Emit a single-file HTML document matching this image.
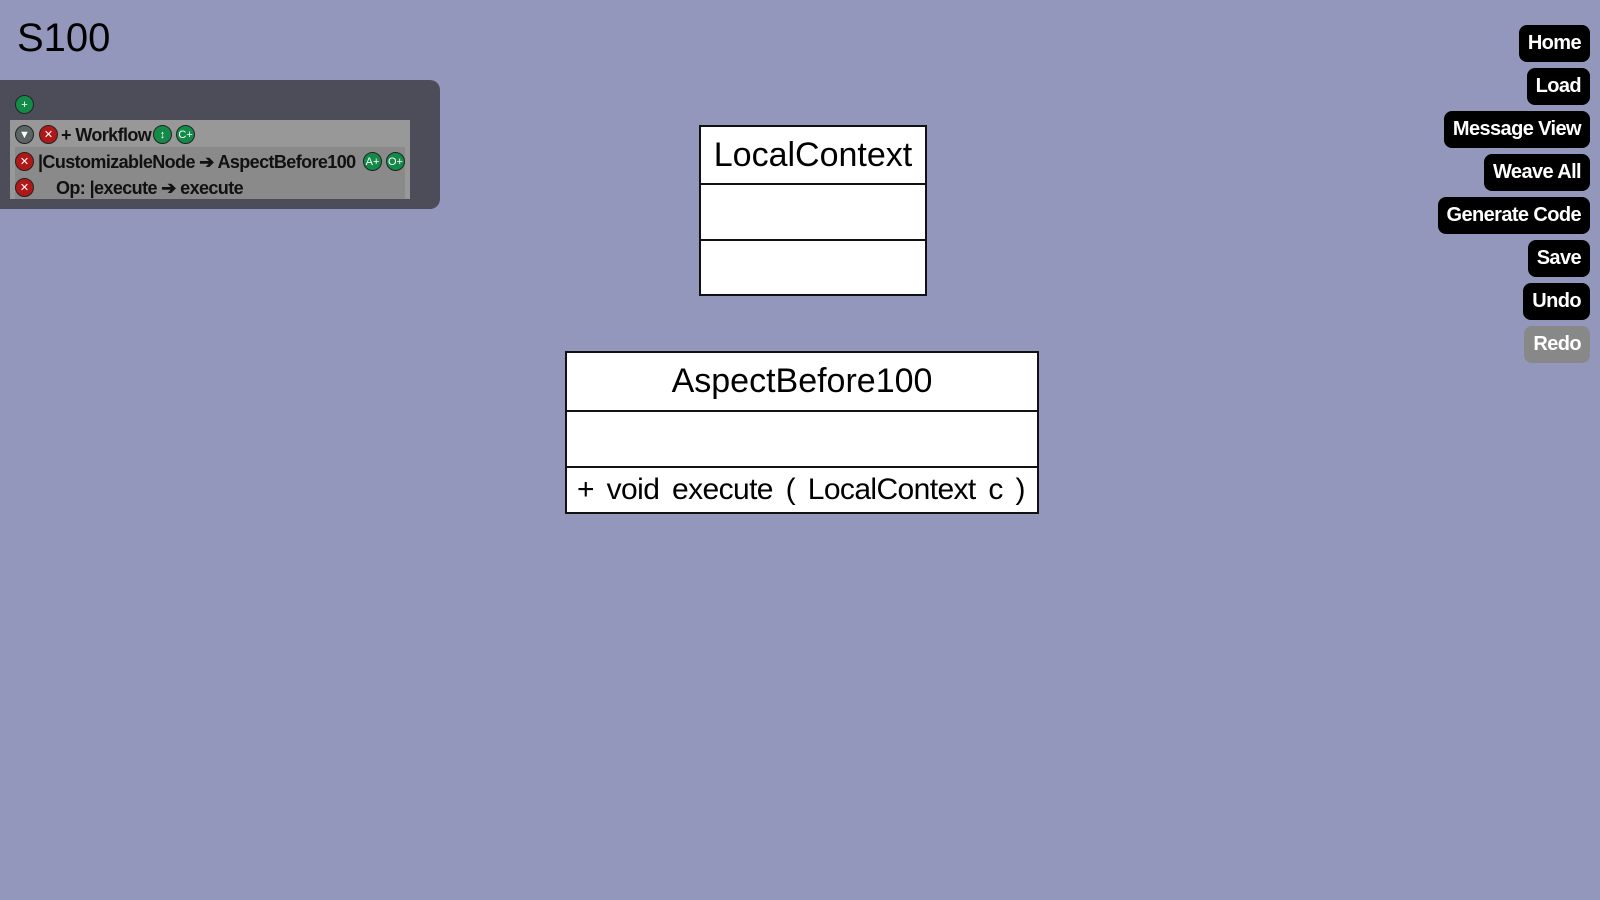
<!DOCTYPE html>
<html><head><style>
body{margin:0;width:1600px;height:900px;background:#9397bc;font-family:"Liberation Sans",sans-serif;position:relative;overflow:hidden}
.a{position:absolute;white-space:nowrap}
.btn{position:absolute;right:10px;height:37px;background:#000;color:#fff;border-radius:8px;font-size:20px;font-weight:bold;letter-spacing:-0.6px;line-height:37px;padding:0 9px;box-sizing:border-box;white-space:nowrap}
.box{position:absolute;background:#fff;border:2px solid #111;box-sizing:border-box}
.ln{position:absolute;left:0;right:0;height:2px;background:#111}
.ic{position:absolute;width:19px;height:19px;border-radius:50%;font-size:11px;color:#fff;text-align:center;line-height:18px;box-sizing:border-box;border:1px solid #222}
.r{background:#b01818}.g{background:#138a48}.gr{background:#5c6464}
.t{position:absolute;font-size:18px;font-weight:bold;letter-spacing:-0.6px;color:#111;line-height:20px;white-space:nowrap}
</style></head><body>
<div class="a" style="left:17px;top:16px;font-size:40px">S100</div>
<div class="a" style="left:0;top:80px;width:440px;height:129px;background:#4d4d5a;border-radius:0 10px 10px 0"></div>
<div class="ic g" style="left:15px;top:95px">+</div>
<div class="a" style="left:10px;top:120px;width:400px;height:79px;background:#989898"></div>
<div class="a" style="left:15px;top:147px;width:390px;height:52px;background:#8a8a8a"></div>
<div class="ic gr" style="left:15px;top:125px">▼</div>
<div class="ic r" style="left:39px;top:125px">✕</div>
<div class="t" style="left:61px;top:125px">+ Workflow</div>
<div class="ic g" style="left:153px;top:125px">↕</div>
<div class="ic g" style="left:176px;top:125px">C+</div>
<div class="ic r" style="left:15px;top:152px">✕</div>
<div class="t" style="left:38px;top:152px">|CustomizableNode ➔ AspectBefore100</div>
<div class="ic g" style="left:363px;top:152px">A+</div>
<div class="ic g" style="left:386px;top:152px">O+</div>
<div class="ic r" style="left:15px;top:178px">✕</div>
<div class="t" style="left:56px;top:178px">Op: |execute ➔ execute</div>

<div class="box" style="left:699px;top:125px;width:228px;height:171px">
<div class="a" style="left:0;right:0;top:9px;text-align:center;font-size:34px">LocalContext</div>
<div class="ln" style="top:56px"></div><div class="ln" style="top:112px"></div></div>

<div class="box" style="left:565px;top:351px;width:474px;height:163px">
<div class="a" style="left:0;right:0;top:9px;text-align:center;font-size:34px">AspectBefore100</div>
<div class="ln" style="top:57px"></div><div class="ln" style="top:113px"></div>
<div class="a" style="left:10px;top:120px;font-size:30px;letter-spacing:-0.6px;word-spacing:5px">+ void execute ( LocalContext c )</div></div>

<div class="btn" style="top:25px">Home</div>
<div class="btn" style="top:68px">Load</div>
<div class="btn" style="top:111px">Message View</div>
<div class="btn" style="top:154px">Weave All</div>
<div class="btn" style="top:197px">Generate Code</div>
<div class="btn" style="top:240px">Save</div>
<div class="btn" style="top:283px">Undo</div>
<div class="btn" style="top:326px;background:#888">Redo</div>
</body></html>
